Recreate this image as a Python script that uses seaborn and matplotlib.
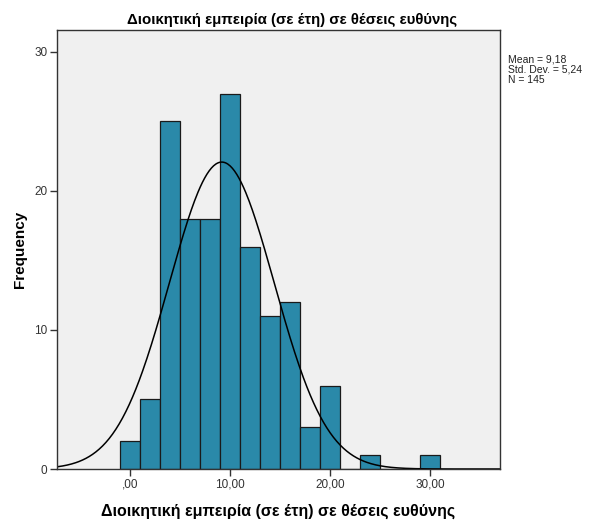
import numpy as np
import pandas as pd
import matplotlib
matplotlib.use("Agg")
import matplotlib.pyplot as plt
import seaborn as sns

bin_centers = [0, 2, 4, 6, 8, 10, 12, 14, 16, 18, 20, 22, 24, 26, 28, 30]
counts = [2, 5, 25, 18, 18, 27, 16, 11, 12, 3, 6, 0, 1, 0, 0, 1]
mean_val = 9.18
std_val = 5.24
n_val = 145
x_ticks = [0, 10, 20, 30]
x_tick_labels = [",00", "10,00", "20,00", "30,00"]
y_ticks = [0, 10, 20, 30]
title = "Διοικητική εμπειρία (σε έτη) σε θέσεις ευθύνης"

sns.set_theme(style="white")
plt.rcParams['font.family'] = ['Liberation Sans', 'DejaVu Sans']

fig = plt.figure(figsize=(5.91, 5.21), dpi=100)
ax = fig.add_axes([57/591, 1-469/521, (500-57)/591, (469-30)/521])
ax.set_facecolor("#f0f0f0")

df = pd.DataFrame({"x": bin_centers, "w": counts})
sns.histplot(data=df, x="x", weights="w", binwidth=2, binrange=(-1, 31), ax=ax,
             color="#2a89a9", alpha=1, edgecolor="#1a1a1a", linewidth=0.9)

xs = np.linspace(-7.3, 37, 400)
bw = 2
ys = n_val * bw / (std_val * np.sqrt(2 * np.pi)) * np.exp(-0.5 * ((xs - mean_val) / std_val) ** 2)
sns.lineplot(x=xs, y=ys, ax=ax, color="black", linewidth=1.1)

ax.set_xlim(-7.3, 37.0)
ax.set_ylim(0, 31.58)
ax.set_xticks(x_ticks)
ax.set_xticklabels(x_tick_labels, color="#333333", fontsize=8.5)
ax.set_yticks(y_ticks)
ax.set_yticklabels([str(v) for v in y_ticks], color="#333333", fontsize=8.5)
ax.tick_params(axis="both", direction="out", length=5, width=1, color="#333333", pad=2,
               bottom=True, left=True)
for s in ax.spines.values():
    s.set_visible(True)
    s.set_color("#333333")
    s.set_linewidth(1)

ax.set_xlabel(title, fontsize=11.5, fontweight="bold", labelpad=9, color="black")
ax.set_ylabel("Frequency", fontsize=11, fontweight="bold", labelpad=5, color="black")
ax.set_title(title, fontsize=10.8, fontweight="bold", pad=4, color="black", x=0.53)

fig.text(508/591, 1-55/521, "Mean = 9,18\nStd. Dev. = 5,24\nN = 145",
         fontsize=7.5, va="top", ha="left", color="#222222", linespacing=1.0)

fig.savefig("out.png", dpi=100)
